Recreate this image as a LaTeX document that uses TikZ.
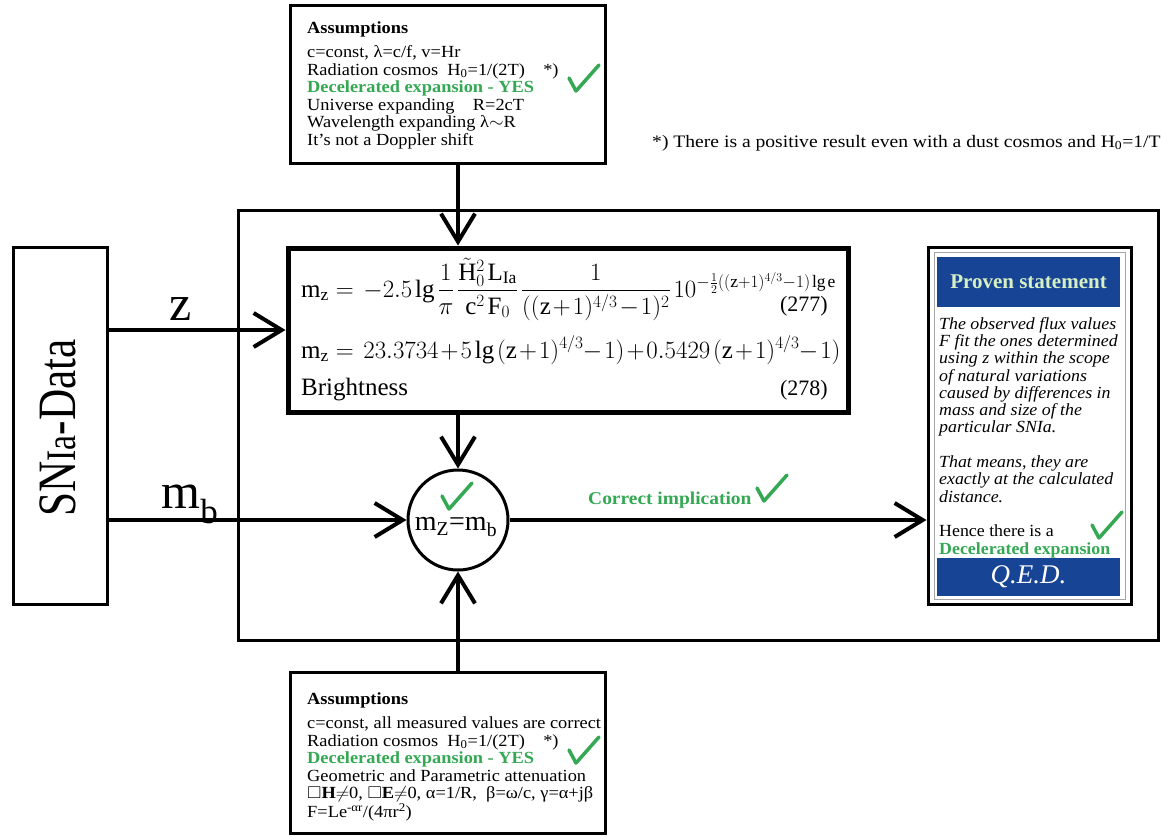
\documentclass[tikz,border=0pt]{standalone}
\usepackage{amsmath}
\usepackage{amssymb}
\usepackage{fontspec}
\setmainfont{Liberation Serif}
\definecolor{okgreen}{RGB}{52,168,83}
\definecolor{qedblue}{RGB}{24,68,150}
\definecolor{paleleaf}{RGB}{214,240,196}
\usetikzlibrary{positioning, arrows.meta}
\newcommand{\greentext}[1]{\textcolor{okgreen}{\upshape\bfseries #1}}
\newcommand{\tightmath}{\medmuskip=1.5mu\thickmuskip=5mu\thinmuskip=2mu}

\begin{document}
\begin{tikzpicture}[x=1pt, y=-1pt,
    box/.style={draw, line width=3pt, inner sep=0pt},
    arr/.style={line width=4pt, -{Straight Barb[length=28pt, width=34pt, line width=4pt]}},
    body/.style={font=\fontsize{17}{17.5}\selectfont, xscale=1.08, align=left, inner sep=0pt, anchor=north west},
    eqfont/.style={font=\fontsize{25}{28}\selectfont\tightmath, anchor=base west, inner sep=0pt},
    tickmark/.pic={\draw[okgreen, line width=3.5pt, line cap=round, line join=round]
      (0,0) -- (7,13) -- (30,-13);}]
    \useasboundingbox (0,0) rectangle (1161,836);

    % outer frame
    \draw[line width=3pt] (238,210) rectangle (1158,640);

    % assumptions above
    \node[box, minimum width=315pt, minimum height=158pt] (assumtop) at (447.5,84) {};
    \node[body] (toptext) at (307,21) {\textbf{Assumptions}\\[7pt]
      c=const, λ=c/f, v=Hr\\
      Radiation cosmos\ \ H\textsubscript{0}=1/(2T)\ \ \ \ *)\\
      \greentext{Decelerated expansion - YES}\\
      Universe expanding\ \ \ \ R=2cT\\
      Wavelength expanding λ$\sim$R\\
      It's not a Doppler shift};
    \pic at (569,78) {tickmark};
    \node[anchor=base west, inner sep=0pt, xscale=1.12, font=\fontsize{17.5}{19}\selectfont] (footnote) at (652,147)
      {*) There is a positive result even with a dust cosmos and H\textsubscript{0}=1/T};

    % data source
    \node[box, minimum width=94pt, minimum height=357pt] (sndata) at (60,425.5) {};
    \node[rotate=90, xscale=0.8, font=\fontsize{54}{54}\selectfont] (sntext) at (58,428)
      {SN{\fontsize{42}{42}\selectfont Ia}-Data};

    % brightness formula
    \node[draw, line width=5pt, minimum width=560pt, minimum height=164pt] (eqbox) at (568,330) {};
    \node[eqfont] (eqone) at (301,297)
      {$\mathrm{m_z} =\, -2.5\,\mathrm{lg}\,\dfrac{1}{\pi}\,\dfrac{\tilde{\mathrm{H}}_0^2\,\mathrm{L_{Ia}}}{\mathrm{c}^2\,\mathrm{F}_0}\,\dfrac{1}{((\mathrm{z}+1)^{4/3}-1)^2}\,10^{-\frac{1}{2}((\mathrm{z}+1)^{4/3}-1)\,\mathrm{lg\,e}}$};
    \node[anchor=base east, inner sep=0pt, font=\fontsize{22}{24}\selectfont] (numone) at (828,311) {(277)};
    \node[eqfont] (eqtwo) at (301,358)
      {$\mathrm{m_z} =\, 23.3734+5\,\mathrm{lg}\,(\mathrm{z}+1)^{4/3}\!-1)+0.5429\,(\mathrm{z}+1)^{4/3}\!-1)$};
    \node[eqfont] (bright) at (301,395) {Brightness};
    \node[anchor=base east, inner sep=0pt, font=\fontsize{22}{24}\selectfont] (numtwo) at (828,395) {(278)};

    % comparison
    \node[circle, draw, line width=3pt, minimum size=100pt, inner sep=0pt] (cmp) at (458,520) {};
    \node[inner sep=0pt, font=\fontsize{28}{30}\selectfont] (cmptext) at (456,527) {m\textsubscript{Z}=m\textsubscript{b}};
    \pic at (442,496) {tickmark};

    \node[anchor=base west, inner sep=0pt, xscale=1.08, font=\fontsize{18}{20}\selectfont\bfseries, text=okgreen] (implic) at (588,504) {Correct implication};
    \pic at (757,488) {tickmark};

    % result
    \node[box, minimum width=203pt, minimum height=357pt] (proven) at (1029.5,425.5) {};
    \draw[gray!70, line width=0.8pt] (934,252) rectangle (1125,599);
    \node[fill=qedblue, minimum width=183pt, minimum height=50pt, inner sep=0pt, text=paleleaf,
      font=\fontsize{21}{23}\selectfont\bfseries] (provenhead) at (1028.5,282) {Proven statement};
    \node[align=left, inner sep=0pt, anchor=north west, xscale=1.05,
      font=\fontsize{17}{17.3}\selectfont\itshape] (proventext) at (939,317)
      {The observed flux values\\
      F fit the ones determined\\
      using z within the scope\\
      of natural variations\\
      caused by differences in\\
      mass and size of the\\
      particular SNIa.\\[17.3pt]
      That means, they are\\
      exactly at the calculated\\
      distance.\\[17.3pt]
      \upshape Hence there is a\\
      \greentext{Decelerated expansion}};
    \pic at (1092,525) {tickmark};
    \node[fill=qedblue, minimum width=183pt, minimum height=38pt, inner sep=0pt, text=white,
      font=\fontsize{27}{29}\selectfont\itshape] (qed) at (1028.5,577) {Q.E.D.};

    % assumptions below
    \node[box, minimum width=315pt, minimum height=161pt] (assumbot) at (447.5,752.5) {};
    \node[body] (bottext) at (307,692) {\textbf{Assumptions}\\[7pt]
      c=const, all measured values are correct\\
      Radiation cosmos\ \ H\textsubscript{0}=1/(2T)\ \ \ \ *)\\
      \greentext{Decelerated expansion - YES}\\
      Geometric and Parametric attenuation\\
      $\square$\textbf{H}$\neq$0, $\square$\textbf{E}$\neq$0, α=1/R,\ \ β=ω/c, γ=α+jβ\\
      F=Le\textsuperscript{-αr}/(4πr\textsuperscript{2})};
    \pic at (569,750) {tickmark};

    % connectors
    \draw[arr] (assumtop.south -| cmp) -- (cmp |- eqbox.north);
    \draw[arr] (sndata.east |- eqbox.west) -- (eqbox.west);
    \node[font=\fontsize{50}{50}\selectfont, anchor=base] (zlabel) at (181,320) {z};
    \draw[arr] (sndata.east |- cmp.west) -- (cmp.west);
    \node[font=\fontsize{50}{50}\selectfont, anchor=base] (mblabel) at (190,508) {m\textsubscript{b}};
    \draw[arr] (cmp |- eqbox.south) -- (cmp.north);
    \draw[arr] (assumbot.north -| cmp) -- (cmp.south);
    \draw[arr] (cmp.east) -- (cmp.east -| proven.west);
  \end{tikzpicture}
\end{document}
